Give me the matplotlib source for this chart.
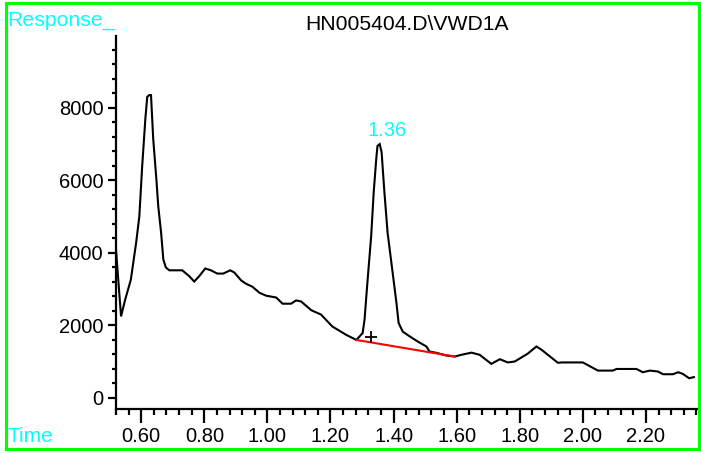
import matplotlib
matplotlib.use("Agg")
import matplotlib.pyplot as plt
from matplotlib.patches import Rectangle
from matplotlib.ticker import MultipleLocator, FormatStrFormatter

plt.rcParams['font.family'] = ['Liberation Sans', 'DejaVu Sans']

times = [0.517, 0.536, 0.549, 0.567, 0.584, 0.594, 0.603, 0.613, 0.619, 0.625,
         0.631, 0.638, 0.648, 0.654, 0.663, 0.670, 0.678, 0.689, 0.730, 0.752,
         0.768, 0.784, 0.803, 0.821, 0.841, 0.860, 0.882, 0.895, 0.917, 0.932,
         0.952, 0.975, 0.996, 1.028, 1.048, 1.075, 1.091, 1.107, 1.139, 1.170,
         1.206, 1.250, 1.282, 1.302, 1.308, 1.317, 1.329, 1.337, 1.345, 1.349,
         1.356, 1.362, 1.371, 1.381, 1.397, 1.409, 1.416, 1.429, 1.451, 1.476,
         1.504, 1.514, 1.536, 1.567, 1.594, 1.615, 1.647, 1.673, 1.710, 1.737,
         1.762, 1.784, 1.825, 1.853, 1.869, 1.921, 1.933, 2.000, 2.048, 2.095,
         2.107, 2.170, 2.190, 2.213, 2.238, 2.254, 2.286, 2.302, 2.317, 2.337,
         2.352]
response = [4430, 2250, 2710, 3260, 4290, 5010, 6390, 7690, 8300, 8350,
            8350, 7140, 6030, 5280, 4560, 3820, 3600, 3520, 3520, 3360,
            3210, 3360, 3570, 3520, 3430, 3430, 3520, 3460, 3240, 3150,
            3070, 2900, 2820, 2770, 2600, 2600, 2690, 2660, 2420, 2300,
            1970, 1740, 1600, 1790, 2160, 3180, 4460, 5670, 6580, 6950,
            7000, 6780, 5670, 4560, 3460, 2630, 2070, 1830, 1700, 1560,
            1420, 1280, 1245, 1170, 1143, 1190, 1250, 1190, 940, 1070,
            980, 1005, 1220, 1420, 1330, 970, 980, 980, 755, 755,
            800, 800, 710, 755, 730, 655, 655, 710, 665, 545,
            575]

baseline_t = [1.282, 1.594]
baseline_r = [1600, 1143]

peak_label = "1.36"
peak_label_pos = (1.378, 7370)
marker_pos = (1.327, 1680)

title = "HN005404.D\\VWD1A"

W, H = 701, 453
fig = plt.figure(figsize=(W / 100, H / 100), dpi=100)
ax = fig.add_axes([116 / W, 1 - 408.5 / H, (697 - 116) / W, (408.5 - 36) / H])

ax.plot(times, response, color='black', lw=1.5, solid_joinstyle='miter')
ax.plot(baseline_t, baseline_r, color='#ff0000', lw=1.5)
ax.plot([marker_pos[0]], [marker_pos[1]], marker='+', color='black',
        markersize=9, mew=1.3)
ax.text(peak_label_pos[0], peak_label_pos[1], peak_label, color='#00ffff',
        fontsize=14.5, ha='center', va='center')

ax.set_xlim(0.52, 2.362)
ax.set_ylim(-290, 9980)

for s in ['top', 'right']:
    ax.spines[s].set_visible(False)
for s in ['left', 'bottom']:
    ax.spines[s].set_linewidth(1.6)

ax.xaxis.set_major_locator(MultipleLocator(0.2))
ax.xaxis.set_minor_locator(MultipleLocator(0.04))
ax.xaxis.set_major_formatter(FormatStrFormatter('%.2f'))
ax.yaxis.set_major_locator(MultipleLocator(2000))
ax.yaxis.set_minor_locator(MultipleLocator(400))

ax.tick_params(axis='x', which='major', length=10, width=1.6, labelsize=14.5, pad=3)
ax.tick_params(axis='x', which='minor', length=4, width=1.6)
ax.tick_params(axis='y', which='major', length=6, width=1.6, labelsize=14.5, pad=3)
ax.tick_params(axis='y', which='minor', length=3, width=1.6)

fig.text(7 / W, 1 - 20 / H, "Response_", color='#00ffff', fontsize=15.3,
         ha='left', va='center')
fig.text(7 / W, 1 - 437 / H, "Time", color='#00ffff', fontsize=15,
         ha='left', va='center')
fig.text(407 / W, 1 - 24 / H, title, color='black', fontsize=15.2,
         ha='center', va='center')

fig.patches.append(Rectangle((6 / W, 4.5 / H), (699 - 6) / W, (450 - 4.5) / H,
                             transform=fig.transFigure, fill=False,
                             edgecolor='#00ff00', lw=2.2))

fig.savefig("out.png", dpi=100)
